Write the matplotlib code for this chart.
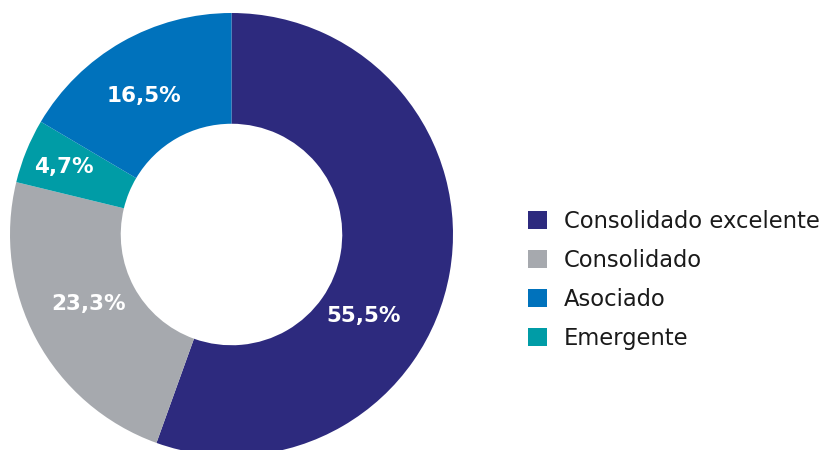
import matplotlib
matplotlib.use("Agg")
import matplotlib.pyplot as plt

# Data
categories = ["Consolidado excelente", "Consolidado", "Emergente", "Asociado"]
shares = [55.5, 23.3, 4.7, 16.5]
colors = ["#2d2a7e", "#a6a9ae", "#009ca6", "#0072bc"]
legend_order = ["Consolidado excelente", "Consolidado", "Asociado", "Emergente"]

# Label positions in pie units (radius = 1)
label_xy = [(0.594, -0.366), (-0.644, -0.314), (-0.759, 0.305), (-0.395, 0.626)]

plt.rcParams["font.family"] = ["DejaVu Sans"]

fig = plt.figure(figsize=(8.26, 4.5), dpi=100)
W, H = 826, 450
cx, cy, r = 231.5, 234.5, 221.5
ax = fig.add_axes([(cx - r) / W, (H - cy - r) / H, 2 * r / W, 2 * r / H])

wedges, _ = ax.pie(shares, colors=colors, startangle=90, counterclock=False,
                   radius=1, wedgeprops=dict(width=0.5, linewidth=0))
ax.set_xlim(-1, 1)
ax.set_ylim(-1, 1)
ax.set_aspect("equal")
ax.axis("off")

for val, (x, y) in zip(shares, label_xy):
    txt = f"{val:.1f}%".replace(".", ",")
    ax.text(x, y, txt, ha="center", va="center", color="white",
            fontsize=15.5, fontweight="bold")

handles = [wedges[categories.index(c)] for c in legend_order]
fig.legend(handles, legend_order, loc="upper left",
           bbox_to_anchor=(528 / W, 1 - 210 / H), frameon=False,
           fontsize=16.3, handlelength=0.84, handleheight=0.84,
           handletextpad=0.75, labelspacing=0.71, borderpad=0,
           borderaxespad=0, labelcolor="#1a1a1a")

fig.savefig("out.png", dpi=100)
